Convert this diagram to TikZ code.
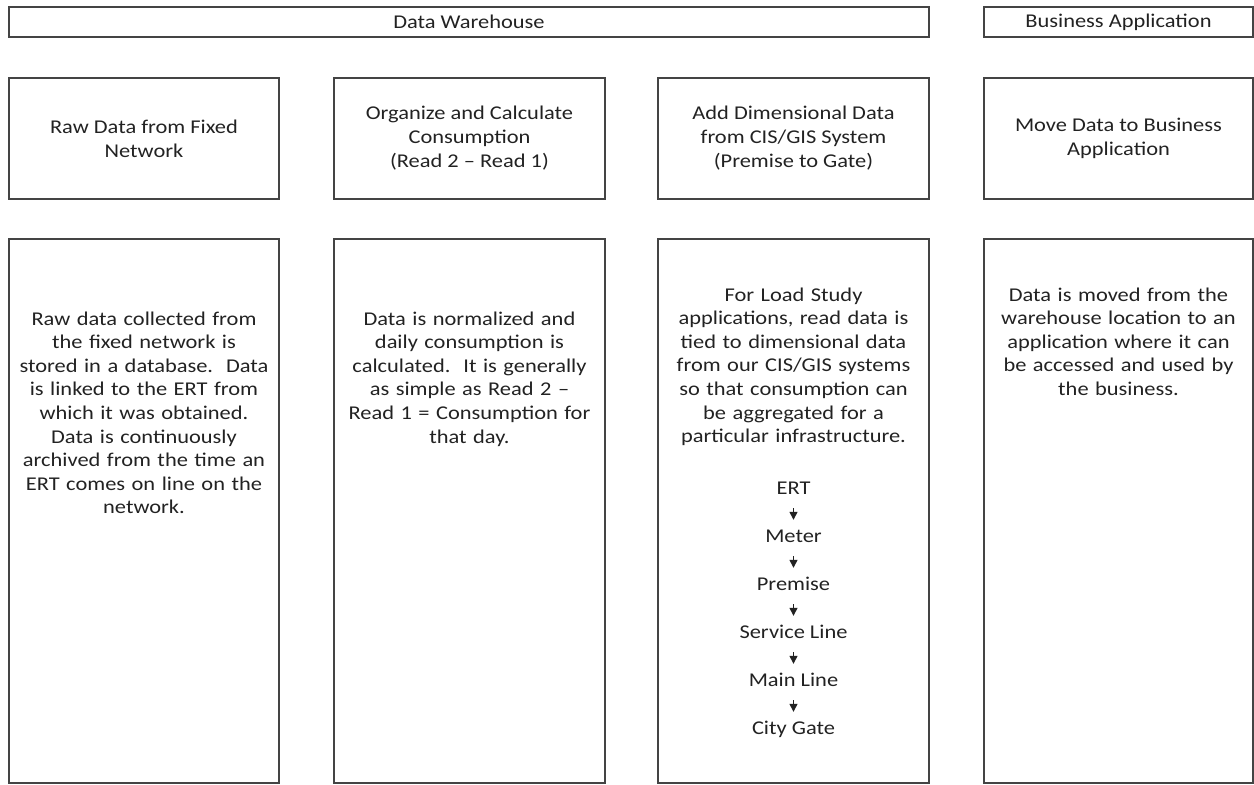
\documentclass[tikz,border=0pt]{standalone}
\usepackage{fontspec}
\setmainfont{Carlito}[FakeStretch=1.15]
\usetikzlibrary{arrows.meta}
\definecolor{edge}{HTML}{444444}
\definecolor{ink}{HTML}{222222}
\begin{document}
\begin{tikzpicture}[x=1pt,y=-1pt,
  box/.style={draw=edge, line width=2.2pt, inner sep=0pt, text=ink, align=center,
    font=\fontsize{19.5}{24}\selectfont},
  txt/.style={text=ink, align=center, inner sep=0pt, text width=262pt,
    font=\fontsize{19.5}{23.6}\selectfont},
  chainitem/.style={text=ink, inner sep=0pt, text height=13pt, text depth=4pt,
    font=\fontsize{19.5}{24}\selectfont},
  arr/.style={draw=ink, line width=1.3pt, -{Triangle[length=8pt,width=8pt]},
    shorten <=10pt, shorten >=9pt}]
\useasboundingbox (0,0) rectangle (1254,785);
% top bars
\node[box, minimum width=920pt, minimum height=30pt] (dw) at (469,22) {Data Warehouse};
\node[box, minimum width=269pt, minimum height=30pt] (ba) at (1118.5,22) {Business Application};
% row 2
\node[box, minimum width=270pt, minimum height=121pt] (h1) at (144,138.5) {Raw Data from Fixed\\Network};
\node[box, minimum width=271pt, minimum height=121pt] (h2) at (469.5,138.5) {Organize and Calculate\\Consumption\\(Read 2 – Read 1)};
\node[box, minimum width=271pt, minimum height=121pt] (h3) at (793.5,138.5) {Add Dimensional Data\\from CIS/GIS System\\(Premise to Gate)};
\node[box, minimum width=269pt, minimum height=121pt] (h4) at (1118.5,138.5) {Move Data to Business\\Application};
% row 3 boxes
\node[box, minimum width=270pt, minimum height=544pt] (b1) at (144,511) {};
\node[box, minimum width=271pt, minimum height=544pt] (b2) at (469.5,511) {};
\node[box, minimum width=271pt, minimum height=544pt] (b3) at (793.5,511) {};
\node[box, minimum width=269pt, minimum height=544pt] (b4) at (1118.5,511) {};
% row 3 texts
\node[txt, anchor=base] (t1) at (144,325) {Raw data collected from\\the fixed network is\\stored in a database.\ \ Data\\is linked to the ERT from\\which it was obtained.\\Data is continuously\\archived from the time an\\ERT comes on line on the\\network.};
\node[txt, anchor=base] (t2) at (469.5,325) {Data is normalized and\\daily consumption is\\calculated.\ \ It is generally\\as simple as Read 2 –\\Read 1 = Consumption for\\that day.};
\node[txt, anchor=base] (t3) at (793.5,301) {For Load Study\\applications, read data is\\tied to dimensional data\\from our CIS/GIS systems\\so that consumption can\\be aggregated for a\\particular infrastructure.};
\node[txt, anchor=base] (t4) at (1118.5,301) {Data is moved from the\\warehouse location to an\\application where it can\\be accessed and used by\\the business.};
% chain
\node[chainitem, anchor=base] (ert) at (793.5,494) {ERT};
\node[chainitem, anchor=base] (meter) at (793.5,542) {Meter};
\node[chainitem, anchor=base] (premise) at (793.5,590) {Premise};
\node[chainitem, anchor=base] (service) at (793.5,638) {Service Line};
\node[chainitem, anchor=base] (mainline) at (793.5,686) {Main Line};
\node[chainitem, anchor=base] (gate) at (793.5,734) {City Gate};
\draw[arr] (ert) -- (meter);
\draw[arr] (meter) -- (premise);
\draw[arr] (premise) -- (service);
\draw[arr] (service) -- (mainline);
\draw[arr] (mainline) -- (gate);
\end{tikzpicture}
\end{document}
